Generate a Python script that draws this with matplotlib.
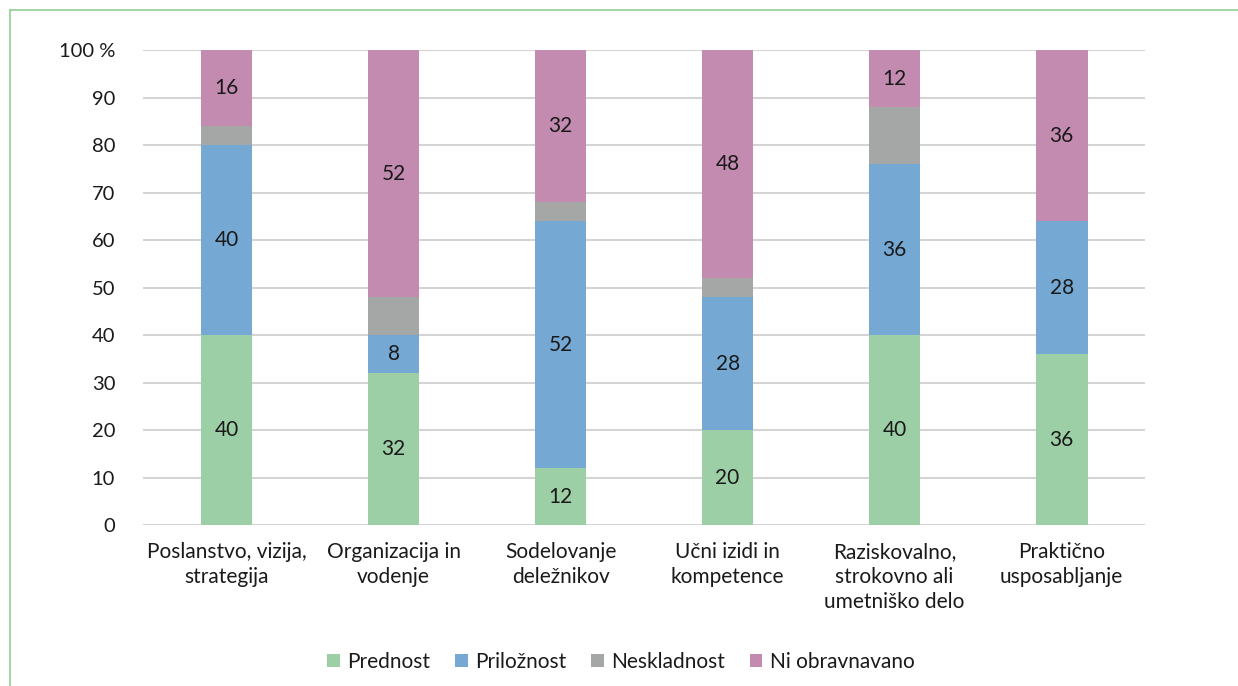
import numpy as np
import matplotlib.pyplot as plt
from matplotlib.lines import Line2D

plt.rcParams['font.family'] = ['Lato', 'DejaVu Sans']

# ---------- data ----------
categories = ['Poslanstvo, vizija,\nstrategija', 'Organizacija in\nvodenje',
              'Sodelovanje\ndeležnikov', 'Učni izidi in\nkompetence',
              'Raziskovalno,\nstrokovno ali\numetniško delo', 'Praktično\nusposabljanje']
prednost = [40, 32, 12, 20, 40, 36]
priloznost = [40, 8, 52, 28, 36, 28]
neskladnost = [4, 8, 4, 4, 12, 0]
ni_obravnavano = [16, 52, 32, 48, 12, 36]

series = [('Prednost', prednost, '#9dcfa6', True),
          ('Priložnost', priloznost, '#75a8d3', True),
          ('Neskladnost', neskladnost, '#a5a7a7', False),
          ('Ni obravnavano', ni_obravnavano, '#c38bb0', True)]

# ---------- plot ----------
fig = plt.figure(figsize=(12.38, 6.86), dpi=100)
ax = fig.add_axes([0.1155, 0.2347, 0.8095, 0.6923])

x = np.arange(len(categories))
bottom = np.zeros(len(categories))
for name, vals, col, show in series:
    vals = np.array(vals)
    ax.bar(x, vals, bottom=bottom, width=0.31, color=col, label=name, zorder=3)
    if show:
        for xi, b, v in zip(x, bottom, vals):
            if v > 0:
                ax.text(xi, b + v / 2, str(v), ha='center', va='center',
                        fontsize=15, color='#1a1a1a', zorder=4)
    bottom += vals

ax.set_xlim(-0.5, len(categories) - 0.5)
ax.set_ylim(0, 100)
ax.set_yticks(range(0, 101, 10))
ax.set_yticklabels([str(v) for v in range(0, 100, 10)] + ['100 %'])
ax.set_xticks(x)
ax.set_xticklabels(categories, fontsize=15, color='#1a1a1a', linespacing=1.32)
ax.tick_params(axis='y', labelsize=14.5, labelcolor='#1a1a1a', length=0, pad=20)
ax.tick_params(axis='x', length=0, pad=12)
ax.grid(axis='y', color='#d4d4d4', linewidth=1.5, zorder=0)
for s in ax.spines.values():
    s.set_visible(False)

ax.legend(loc='upper center', bbox_to_anchor=(0.477, -0.228), ncol=4, frameon=False,
          fontsize=15, handlelength=0.6, handleheight=0.6, handletextpad=0.35,
          columnspacing=1.2, labelcolor='#1a1a1a')

# thin green frame lines of the original figure box
fig.add_artist(Line2D([10 / 1238, 1], [1 - 10 / 686, 1 - 10 / 686], color='#93cf93', lw=1.2))
fig.add_artist(Line2D([10 / 1238, 10 / 1238], [0, 1 - 10 / 686], color='#93cf93', lw=1.2))

fig.savefig('out.png', dpi=100)
